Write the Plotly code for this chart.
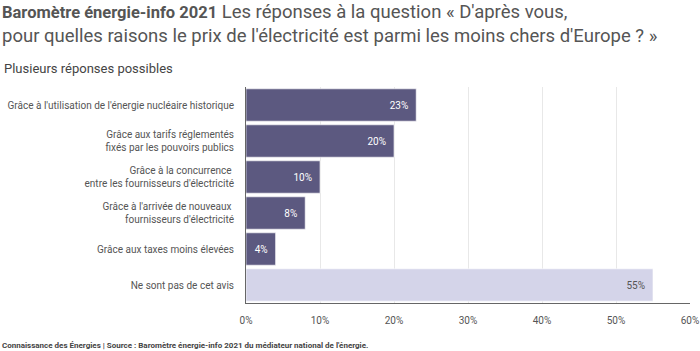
import plotly.graph_objects as go

categories = [
    "Grâce à l'utilisation de l'énergie nucléaire historique",
    "Grâce aux tarifs réglementés<br>fixés par les pouvoirs publics",
    "Grâce à la concurrence <br>entre les fournisseurs d'électricité",
    "Grâce à l'arrivée de nouveaux <br>fournisseurs d'électricité",
    "Grâce aux taxes moins élevées",
    "Ne sont pas de cet avis",
]
values = [23, 20, 10, 8, 4, 55]
labels = ["23%", "20%", "10%", "8%", "4%", "55%"]
tick_vals = [0, 10, 20, 30, 40, 50, 60]
tick_text = ["0%", "10%", "20%", "30%", "40%", "50%", "60%"]

dark = "#5c5980"
light = "#d4d4e9"
colors = [dark] * 5 + [light]
text_colors = ["#ffffff"] * 5 + ["#555555"]

fig = go.Figure(go.Bar(
    x=values, y=categories, orientation="h",
    marker=dict(color=colors, line=dict(color="rgba(255,255,255,0.6)", width=1)),
    text=[t + "  " for t in labels], textposition="inside", insidetextanchor="end",
    textfont=dict(family="Roboto", size=10, color=text_colors),
    cliponaxis=False, hoverinfo="skip",
))

fig.update_layout(
    width=700, height=351,
    margin=dict(l=246, r=10, t=87, b=48, autoexpand=False),
    paper_bgcolor="white", plot_bgcolor="white",
    bargap=0.1, showlegend=False,
    font=dict(family="Roboto", color="#555555"),
)
fig.update_yaxes(
    autorange="reversed", showgrid=False, automargin=False,
    showline=True, linecolor="#666666", linewidth=1,
    ticks="", ticklabelstandoff=9,
    tickfont=dict(family="Roboto", size=10, color="#555555"),
)
fig.update_xaxes(
    range=[0, 60], tickvals=tick_vals, ticktext=tick_text, automargin=False,
    showgrid=True, gridcolor="#e8e8e8", gridwidth=1,
    showline=True, linecolor="#666666", linewidth=1,
    zeroline=False, ticks="", ticklabelstandoff=8,
    tickfont=dict(family="Roboto", size=10, color="#555555"),
)

fig.add_annotation(
    xref="paper", yref="paper", x=-246/444, y=1 + 88/216,
    xanchor="left", yanchor="top",
    text="<span style='font-size:16.5px'><b>Baromètre énergie-info 2021</b></span> Les réponses à la question « D'après vous,<br>pour quelles raisons le prix de l'électricité est parmi les moins chers d'Europe ? »",
    align="left", showarrow=False,
    font=dict(family="Roboto", size=18.5, color="#555555"),
)
fig.add_annotation(
    xref="paper", yref="paper", x=-244/444, y=1 + 9/216,
    xanchor="left", yanchor="bottom",
    text="Plusieurs réponses possibles", showarrow=False,
    font=dict(family="Roboto", size=13, color="#444444"),
)
fig.add_annotation(
    xref="paper", yref="paper", x=-246/444, y=-36/216,
    xanchor="left", yanchor="top",
    text="<b>Connaissance des Énergies | Source : Baromètre énergie-info 2021 du médiateur national de l'énergie.</b>",
    showarrow=False,
    font=dict(family="Roboto", size=8, color="#444444"),
)

fig.write_html("out.html")
